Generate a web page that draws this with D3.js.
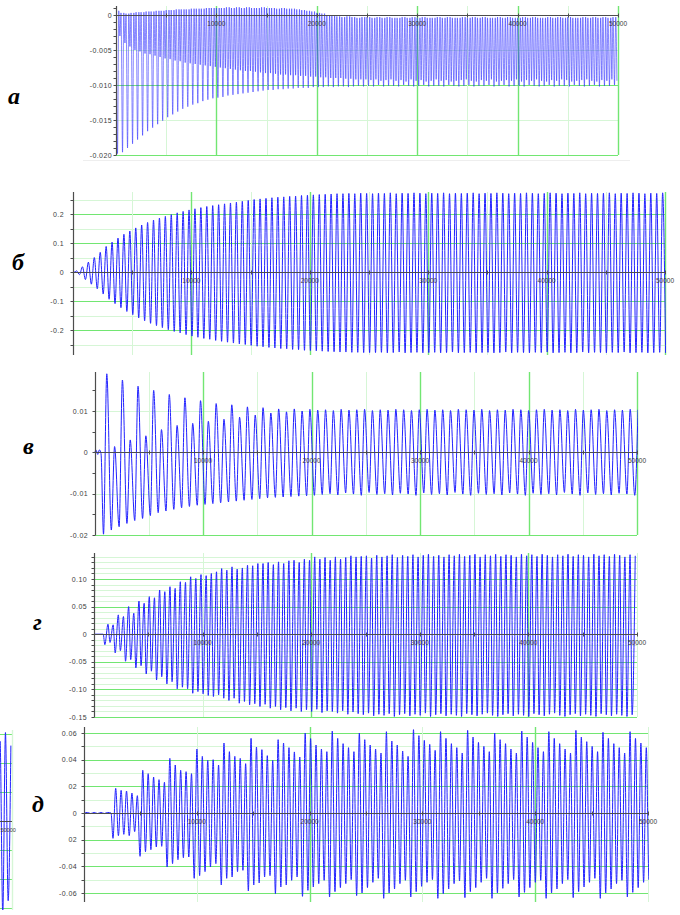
<!DOCTYPE html>
<html>
<head>
<meta charset="utf-8">
<script src="https://cdn.jsdelivr.net/npm/d3@7"></script>
<style>
  html, body { margin: 0; padding: 0; background: #fff; }
  svg { display: block; }
</style>
</head>
<body>
<svg id="fig" width="680" height="915"></svg>
<script>
// ---- shared time axis ----
const timeTicks = [10000, 20000, 30000, 40000, 50000];
const timeTickLabels = ["10000", "20000", "30000", "40000", "50000"];

// ---- panel а: per-cycle extremes (period 500) ----
const aHi = [
  .0006,.0003,.0002,.0003,.0004,.0004,.0005,.0005,.0006,.0006,
  .0007,.0007,.0008,.0008,.0008,.0009,.0009,.0009,.0010,.0010,
  .0010,.0010,.0011,.0010,.0011,.0010,.0011,.0010,.0010,.0011,
  .0010,.0010,.0009,.0010,.0009,.0009,.0008,.0007,.0006,.0005,
  .0003,.0002,.0000,-.0001,-.0002,-.0003,-.0002,-.0003,-.0004,-.0003,
  -.0003,-.0004,-.0003,-.0004,-.0003,-.0004,-.0004,-.0003,-.0004,-.0003,
  -.0004,-.0003,-.0004,-.0004,-.0003,-.0004,-.0003,-.0004,-.0004,-.0003,
  -.0004,-.0003,-.0004,-.0003,-.0004,-.0004,-.0003,-.0004,-.0003,-.0004,
  -.0004,-.0003,-.0004,-.0003,-.0004,-.0004,-.0003,-.0004,-.0003,-.0004,
  -.0003,-.0004,-.0004,-.0003,-.0004,-.0003,-.0004,-.0003,-.0004,-.0003
];
const aLo = [
  -.0198,-.0196,-.0190,-.0184,-.0178,-.0172,-.0166,-.0161,-.0156,-.0151,
  -.0146,-.0142,-.0138,-.0134,-.0131,-.0128,-.0126,-.0123,-.0121,-.0119,
  -.0118,-.0117,-.0115,-.0114,-.0113,-.0112,-.0111,-.0110,-.0109,-.0108,
  -.0107,-.0107,-.0106,-.0106,-.0105,-.0105,-.0104,-.0104,-.0104,-.0103,
  -.0103,-.0103,-.0102,-.0103,-.0102,-.0102,-.0103,-.0102,-.0101,-.0102,
  -.0101,-.0102,-.0100,-.0102,-.0101,-.0101,-.0102,-.0100,-.0101,-.0102,
  -.0101,-.0100,-.0102,-.0101,-.0101,-.0102,-.0100,-.0101,-.0102,-.0101,
  -.0100,-.0102,-.0101,-.0101,-.0100,-.0102,-.0101,-.0100,-.0102,-.0101,
  -.0101,-.0102,-.0100,-.0101,-.0102,-.0101,-.0100,-.0102,-.0101,-.0101,
  -.0102,-.0100,-.0101,-.0102,-.0101,-.0100,-.0102,-.0101,-.0101,-.0100
];
const aMid = [
  -.0030,-.0040,-.0045,-.0050,-.0052,-.0055,-.0056,-.0058,-.0060,-.0062,
  -.0063,-.0065,-.0066,-.0068,-.0069,-.0070,-.0071,-.0072,-.0073,-.0074,
  -.0075,-.0076,-.0077,-.0078,-.0079,-.0080,-.0080,-.0081,-.0082,-.0083,
  -.0083,-.0084,-.0085,-.0085,-.0086,-.0086,-.0087,-.0087,-.0088,-.0088,
  -.0089,-.0089,-.0090,-.0090,-.0090,-.0091,-.0091,-.0092,-.0092,-.0092,
  -.0093,-.0092,-.0094,-.0093,-.0092,-.0094,-.0093,-.0095,-.0092,-.0094,
  -.0093,-.0095,-.0094,-.0092,-.0094,-.0093,-.0095,-.0094,-.0093,-.0092,
  -.0094,-.0095,-.0093,-.0094,-.0092,-.0095,-.0094,-.0093,-.0094,-.0092,
  -.0095,-.0093,-.0094,-.0092,-.0094,-.0095,-.0093,-.0094,-.0092,-.0093,
  -.0095,-.0094,-.0093,-.0092,-.0094,-.0095,-.0093,-.0094,-.0092,-.0094
];
const aTickValues = [0, -0.005, -0.010, -0.015, -0.020];
const aTickLabels = ["0", "-0.005", "-0.010", "-0.015", "-0.020"];

// ---- panel б: per-cycle extremes (period 500) ----
const bHi = [
  .004,.018,.034,.050,.068,.088,.103,.117,.130,.141,
  .152,.162,.171,.179,.186,.192,.198,.204,.209,.214,
  .218,.222,.226,.229,.232,.235,.238,.241,.244,.247,
  .250,.252,.254,.256,.258,.259,.261,.262,.264,.265,
  .266,.267,.268,.269,.270,.270,.271,.270,.272,.271,
  .270,.272,.271,.273,.270,.272,.271,.273,.272,.270,
  .272,.271,.273,.270,.272,.271,.272,.273,.270,.272,
  .271,.273,.272,.270,.272,.271,.273,.272,.270,.271,
  .273,.272,.270,.272,.271,.273,.270,.272,.271,.272,
  .273,.270,.272,.271,.273,.272,.270,.272,.271,.273
];
const bLo = [
  -.009,-.026,-.042,-.058,-.076,-.094,-.109,-.123,-.136,-.147,
  -.158,-.168,-.177,-.185,-.192,-.199,-.205,-.210,-.216,-.221,
  -.225,-.229,-.232,-.236,-.239,-.242,-.245,-.248,-.250,-.253,
  -.256,-.258,-.260,-.262,-.264,-.265,-.267,-.268,-.270,-.271,
  -.272,-.273,-.274,-.275,-.276,-.276,-.277,-.277,-.278,-.278,
  -.278,-.277,-.279,-.278,-.276,-.279,-.278,-.277,-.279,-.278,
  -.277,-.279,-.278,-.276,-.279,-.278,-.277,-.279,-.278,-.277,
  -.279,-.278,-.276,-.279,-.277,-.278,-.279,-.277,-.278,-.276,
  -.279,-.278,-.277,-.279,-.278,-.276,-.279,-.277,-.278,-.279,
  -.277,-.278,-.276,-.279,-.278,-.277,-.279,-.278,-.277,-.279
];
const bTickValues = [0.2, 0.1, 0, -0.1, -0.2];
const bTickLabels = ["0.2", "0.1", "0", "-0.1", "-0.2"];

// ---- panel в: settling start, then per-cycle extremes (period 720) ----
const vLeadT = [0, 150, 300, 450, 600];
const vLead = [0, .0005, -.0005, .0006, -.0003];
const vHi = [
  .0190,.0014,.0175,.0030,.0160,.0040,.0150,.0055,.0140,.0065,
  .0132,.0070,.0125,.0075,.0118,.0080,.0115,.0085,.0110,.0090,
  .0108,.0095,.0105,.0098,.0105,.0100,.0104,.0102,.0103,.0101,
  .0104,.0102,.0103,.0104,.0101,.0103,.0102,.0104,.0103,.0101,
  .0103,.0104,.0102,.0103,.0101,.0104,.0103,.0102,.0104,.0101,
  .0103,.0102,.0104,.0103,.0101,.0103,.0104,.0102,.0103,.0101,
  .0104,.0102,.0103,.0104,.0101,.0103,.0102,.0104,.0103
];
const vLo = [
  -.0198,-.0188,-.0180,-.0172,-.0165,-.0160,-.0153,-.0146,-.0142,-.0138,
  -.0134,-.0131,-.0128,-.0126,-.0124,-.0122,-.0120,-.0118,-.0116,-.0114,
  -.0112,-.0110,-.0109,-.0108,-.0107,-.0106,-.0105,-.0104,-.0102,-.0100,
  -.0103,-.0098,-.0101,-.0104,-.0097,-.0102,-.0100,-.0103,-.0099,-.0101,
  -.0104,-.0098,-.0102,-.0100,-.0103,-.0097,-.0101,-.0104,-.0099,-.0102,
  -.0100,-.0103,-.0098,-.0101,-.0104,-.0099,-.0102,-.0100,-.0103,-.0097,
  -.0101,-.0104,-.0098,-.0102,-.0100,-.0103,-.0099,-.0101,-.0104
];
const vTickValues = [0.01, 0, -0.01, -0.02];
const vTickLabels = ["0.01", "0", "-0.01", "-0.02"];

// ---- panel г: per-cycle extremes (period 476) ----
const gHi = [
  .018,.017,.035,.032,.050,.038,.060,.056,.068,.066,
  .080,.077,.086,.083,.095,.094,.104,.101,.108,.106,
  .110,.113,.119,.116,.122,.118,.120,.125,.124,.128,
  .128,.130,.126,.131,.128,.133,.134,.130,.136,.134,
  .140,.136,.139,.134,.140,.136,.139,.142,.140,.141,
  .142,.138,.143,.140,.142,.144,.139,.143,.141,.144,
  .140,.143,.145,.141,.143,.140,.144,.142,.145,.141,
  .143,.145,.140,.144,.142,.145,.141,.144,.143,.140,
  .145,.142,.144,.141,.145,.143,.140,.144,.142,.145,
  .141,.144,.143,.140,.145,.142,.144,.141,.145,.143,
  .140,.144,.142
];
const gLo = [
  -.019,-.015,-.034,-.030,-.049,-.046,-.061,-.057,-.072,-.067,
  -.083,-.077,-.090,-.086,-.099,-.096,-.099,-.107,-.104,-.108,
  -.111,-.113,-.110,-.116,-.120,-.116,-.125,-.122,-.128,-.126,
  -.131,-.127,-.134,-.131,-.137,-.133,-.139,-.134,-.140,-.137,
  -.140,-.136,-.142,-.139,-.140,-.143,-.139,-.145,-.141,-.144,
  -.146,-.143,-.148,-.145,-.147,-.144,-.149,-.146,-.144,-.148,
  -.145,-.147,-.143,-.149,-.146,-.144,-.148,-.145,-.147,-.149,
  -.144,-.146,-.148,-.145,-.143,-.147,-.149,-.146,-.144,-.148,
  -.145,-.147,-.149,-.144,-.146,-.148,-.145,-.143,-.147,-.149,
  -.146,-.144,-.148,-.145,-.147,-.149,-.144,-.146,-.148,-.145,
  -.147,-.149,-.146
];
const gTickValues = [0.10, 0.05, 0, -0.05, -0.10, -0.15];
const gTickLabels = ["0.10", "0.05", "0", "-0.05", "-0.10", "-0.15"];

// ---- panel д: quiet start, then per-cycle extremes (period 480) ----
const dLeadT = [0, 300, 600, 900, 1200, 1500, 1800, 2100, 2400];
const dLead = [0, .0004, -.0004, .0004, -.0004, .0004, -.0004, .0004, 0];
const dHi = [
  .0185,.0170,.0165,.0150,.0130,  .0320,.0295,.0270,.0250,.0230,
  .0410,.0360,.0320,.0310,.0295,  .0480,.0425,.0395,.0400,.0360,
  .0525,.0460,.0425,.0410,.0370,  .0560,.0495,.0475,.0430,.0395,
  .0550,.0525,.0490,.0458,.0420,  .0600,.0558,.0510,.0480,.0460,
  .0615,.0560,.0520,.0490,.0460,  .0600,.0550,.0510,.0480,.0450,
  .0610,.0540,.0510,.0465,.0425,  .0625,.0580,.0545,.0515,.0470,
  .0610,.0560,.0520,.0490,.0450,  .0620,.0570,.0530,.0500,.0460,
  .0600,.0550,.0520,.0480,.0450,  .0615,.0570,.0530,.0490,.0460,
  .0610,.0560,.0520,.0480,.0450,  .0620,.0570,.0535,.0500,.0460,
  .0605,.0560,.0520,.0490,.0450,  .0610,.0560,.0525,.0490,.0460
];
const dLo = [
  -.0190,-.0170,-.0160,-.0170,-.0140,  -.0325,-.0290,-.0275,-.0255,-.0250,
  -.0405,-.0380,-.0350,-.0335,-.0330,  -.0490,-.0470,-.0440,-.0405,-.0380,
  -.0540,-.0490,-.0480,-.0440,-.0430,  -.0585,-.0540,-.0525,-.0480,-.0470,
  -.0605,-.0555,-.0540,-.0505,-.0480,  -.0625,-.0580,-.0555,-.0530,-.0505,
  -.0630,-.0590,-.0560,-.0530,-.0500,  -.0620,-.0600,-.0560,-.0520,-.0490,
  -.0640,-.0600,-.0570,-.0530,-.0505,  -.0630,-.0590,-.0550,-.0520,-.0500,
  -.0640,-.0605,-.0570,-.0530,-.0510,  -.0635,-.0590,-.0560,-.0520,-.0490,
  -.0640,-.0600,-.0565,-.0530,-.0500,  -.0630,-.0595,-.0560,-.0520,-.0505,
  -.0640,-.0600,-.0570,-.0530,-.0500,  -.0635,-.0590,-.0555,-.0520,-.0490,
  -.0640,-.0600,-.0570,-.0530,-.0505,  -.0630,-.0595,-.0560,-.0520,-.0500
];
const dTickValues = [0.06, 0.04, 0.02, 0, -0.02, -0.04, -0.06];
const dTickLabels = ["0.06", "0.04", "02", "0", "02", "-0.04", "-0.06"];

// ---- neighbouring plot, only its right edge is on the sheet ----
const eHi = [.055, .061, .052];
const eLo = [-.058, -.064, -.055];

// ---- styling ----
const GREEN = "#72e672";
const LIGHT = "#d6f6d6";
const AXIS = "#4d4d4d";
const BLUE = "#2222ff";
const LABEL = "#3c3c3c";
const LABEL_FONT = "'Liberation Sans', Arial, sans-serif";

const svg = d3.select("#fig");

// build [time, value] points from per-cycle extreme arrays
function cyclePoints(t0, period, seq, lead) {
  const pts = lead ? lead.slice() : [];
  const n = seq[0][1].length;
  for (let i = 0; i < n; i++) {
    for (const [frac, arr] of seq) pts.push([t0 + period * (i + frac), arr[i]]);
  }
  return pts;
}
function zip(ts, vs) { return ts.map((t, i) => [t, vs[i]]); }
function range(a, b, step) {
  const out = [];
  const n = Math.round((b - a) / step);
  for (let i = 0; i <= n; i++) out.push(+(a + i * step).toFixed(6));
  return out;
}
const crisp = v => Math.round(v) + 0.5;

let clipId = 0;
function drawPanel(p) {
  const g = svg.append("g");
  const x = d3.scaleLinear().domain([0, 50000]).range([p.x0, p.x1]);
  const y = d3.scaleLinear().domain(p.yDomain).range(p.yRange);

  // horizontal grid
  const hg = g.append("g");
  hg.selectAll("line.hmin").data(p.hMinor).join("line")
    .attr("x1", p.x0).attr("x2", p.x1)
    .attr("y1", d => crisp(y(d))).attr("y2", d => crisp(y(d)))
    .attr("stroke", LIGHT).attr("stroke-width", 1);
  hg.selectAll("line.hmaj").data(p.hMajor).join("line")
    .attr("x1", p.x0).attr("x2", p.x1)
    .attr("y1", d => crisp(y(d))).attr("y2", d => crisp(y(d)))
    .attr("stroke", GREEN).attr("stroke-width", 1);
  // vertical grid
  hg.selectAll("line.vmin").data(p.vMinor).join("line")
    .attr("x1", d => crisp(x(d))).attr("x2", d => crisp(x(d)))
    .attr("y1", p.top).attr("y2", p.bottom)
    .attr("stroke", LIGHT).attr("stroke-width", 1);
  hg.selectAll("line.vmaj").data(p.vMajor).join("line")
    .attr("x1", d => crisp(x(d))).attr("x2", d => crisp(x(d)))
    .attr("y1", p.top).attr("y2", p.bottom)
    .attr("stroke", GREEN).attr("stroke-width", 1.4);

  // signal
  const id = "clip" + (clipId++);
  svg.append("clipPath").attr("id", id).append("rect")
    .attr("x", p.x0).attr("y", p.top - 2)
    .attr("width", p.x1 - p.x0 + 1).attr("height", p.bottom - p.top + 4);
  const line = d3.line().x(d => x(d[0])).y(d => y(d[1])).curve(d3.curveMonotoneX);
  g.append("path").datum(p.points)
    .attr("clip-path", `url(#${id})`)
    .attr("fill", "none").attr("stroke", BLUE)
    .attr("stroke-width", p.lineWidth || 1)
    .attr("stroke-opacity", p.lineOpacity || 1)
    .attr("d", line);

  // zero line with time ticks
  const y0 = crisp(y(0));
  g.append("line").attr("x1", p.x0).attr("x2", p.x1).attr("y1", y0).attr("y2", y0)
    .attr("stroke", AXIS).attr("stroke-width", 1);
  g.selectAll("line.xt").data(range(5000, 50000, 5000)).join("line")
    .attr("x1", d => crisp(x(d))).attr("x2", d => crisp(x(d)))
    .attr("y1", y0 - 2).attr("y2", y0 + 2)
    .attr("stroke", AXIS).attr("stroke-width", 1);
  g.selectAll("text.xl").data(timeTicks).join("text")
    .attr("x", d => x(d)).attr("y", y0 + 10)
    .attr("text-anchor", "middle")
    .attr("font-family", LABEL_FONT).attr("font-size", 6.5)
    .attr("fill", LABEL)
    .text((d, i) => timeTickLabels[i]);

  // value axis
  const ax = crisp(p.x0);
  g.append("line").attr("x1", ax).attr("x2", ax).attr("y1", p.top).attr("y2", p.bottom)
    .attr("stroke", AXIS).attr("stroke-width", 1.2);
  g.selectAll("line.yt").data(p.minorTicks).join("line")
    .attr("x1", ax - 3).attr("x2", ax)
    .attr("y1", d => crisp(y(d))).attr("y2", d => crisp(y(d)))
    .attr("stroke", AXIS).attr("stroke-width", 1);
  g.selectAll("text.yl").data(p.tickValues).join("text")
    .attr("x", p.labelX).attr("y", d => y(d) + 2.5)
    .attr("text-anchor", "end")
    .attr("font-family", LABEL_FONT).attr("font-size", 7)
    .attr("letter-spacing", 0.4)
    .attr("fill", LABEL)
    .text((d, i) => p.tickLabels[i]);

  // panel letter
  svg.append("text")
    .attr("x", p.letterX).attr("y", p.letterY)
    .attr("font-family", "'Liberation Serif', 'Times New Roman', serif")
    .attr("font-weight", "bold").attr("font-style", "italic")
    .attr("font-size", 24).attr("fill", "#000")
    .text(p.letter);
}

const odd5000 = [5000, 15000, 25000, 35000, 45000];

drawPanel({
  letter: "а", letterX: 8, letterY: 104,
  x0: 116, x1: 618, top: 6, bottom: 155,
  yDomain: [-0.020, 0], yRange: [155, 15],
  hMajor: [-0.010, -0.020], hMinor: [-0.005, -0.015],
  vMajor: timeTicks, vMinor: odd5000,
  minorTicks: range(-0.020, 0.001, 0.001),
  tickValues: aTickValues, tickLabels: aTickLabels, labelX: 112,
  lineWidth: 0.9, lineOpacity: 0.6,
  points: cyclePoints(0, 500, [[0, aHi], [0.3, aLo], [0.55, aHi], [0.78, aMid]])
});

drawPanel({
  letter: "б", letterX: 12, letterY: 270,
  x0: 73, x1: 665, top: 192, bottom: 355,
  yDomain: [-0.2, 0.2], yRange: [330, 214],
  hMajor: [-0.2, -0.1, 0.1, 0.2], hMinor: [-0.25, -0.15, -0.05, 0.05, 0.15, 0.25],
  vMajor: timeTicks, vMinor: odd5000,
  minorTicks: range(-0.25, 0.25, 0.05),
  tickValues: bTickValues, tickLabels: bTickLabels, labelX: 64,
  points: cyclePoints(300, 500, [[0, bHi], [0.5, bLo]], [[0, 0], [150, 0]])
});

drawPanel({
  letter: "в", letterX: 23, letterY: 454,
  x0: 94.5, x1: 637, top: 372, bottom: 535,
  yDomain: [-0.02, 0.01], yRange: [535, 411],
  hMajor: [-0.02], hMinor: [-0.01, 0.01],
  vMajor: timeTicks, vMinor: odd5000,
  minorTicks: range(-0.02, 0.015, 0.005),
  tickValues: vTickValues, tickLabels: vTickLabels, labelX: 88,
  points: cyclePoints(830, 720, [[0, vLo], [0.42, vHi]], zip(vLeadT, vLead))
});

drawPanel({
  letter: "г", letterX: 33, letterY: 630,
  x0: 94, x1: 637, top: 553, bottom: 717,
  yDomain: [-0.15, 0.10], yRange: [717, 579],
  hMajor: [-0.15, -0.10, -0.05, 0.05, 0.10],
  hMinor: range(-0.14, 0.14, 0.01).filter(v => Math.abs(Math.round(v * 100) % 5) !== 0),
  vMajor: [20000, 40000], vMinor: [10000, 30000, 50000],
  minorTicks: range(-0.15, 0.14, 0.01),
  tickValues: gTickValues, tickLabels: gTickLabels, labelX: 87,
  points: cyclePoints(1000, 476, [[0, gLo], [0.6, gHi]], [[0, 0], [850, 0]])
});

drawPanel({
  letter: "д", letterX: 32, letterY: 812,
  x0: 84, x1: 648, top: 727, bottom: 902,
  yDomain: [-0.06, 0.06], yRange: [893, 733],
  hMajor: [-0.06, -0.04, -0.02, 0.02, 0.04, 0.06], hMinor: [-0.05, -0.03, -0.01, 0.01, 0.03, 0.05],
  vMajor: [20000, 40000], vMinor: [10000, 30000, 50000],
  minorTicks: range(-0.06, 0.06, 0.01),
  tickValues: dTickValues, tickLabels: dTickLabels, labelX: 77,
  points: cyclePoints(2570, 480, [[0, dLo], [0.5, dHi]], zip(dLeadT, dLead))
});

// right edge of the neighbouring plot at the left border
(function edgePlot() {
  const g = svg.append("g");
  const x = d3.scaleLinear().domain([0, 50000]).range([12 - 563.5, 12]);
  const y = d3.scaleLinear().domain([-0.06, 0.06]).range([908, 734]);
  [0.06, 0.04, 0.02, -0.02, -0.04, -0.06].forEach(v => {
    g.append("line").attr("x1", 0).attr("x2", 12)
      .attr("y1", crisp(y(v))).attr("y2", crisp(y(v)))
      .attr("stroke", GREEN).attr("stroke-width", 1);
  });
  g.append("line").attr("x1", crisp(x(50000))).attr("x2", crisp(x(50000)))
    .attr("y1", 730).attr("y2", 910).attr("stroke", LIGHT).attr("stroke-width", 1.4);
  svg.append("clipPath").attr("id", "clipEdge").append("rect")
    .attr("x", 0).attr("y", 728).attr("width", 12.5).attr("height", 182);
  const pts = cyclePoints(48700, 480, [[0, eLo], [0.5, eHi]]);
  const line = d3.line().x(d => x(d[0])).y(d => y(d[1])).curve(d3.curveMonotoneX);
  g.append("path").datum(pts).attr("clip-path", "url(#clipEdge)")
    .attr("fill", "none").attr("stroke", BLUE).attr("stroke-width", 1).attr("d", line);
  g.append("line").attr("x1", 0).attr("x2", 12).attr("y1", crisp(y(0))).attr("y2", crisp(y(0)))
    .attr("stroke", AXIS).attr("stroke-width", 1);
  g.append("text").attr("x", 0.5).attr("y", crisp(y(0)) + 10)
    .attr("text-anchor", "start").attr("font-family", LABEL_FONT).attr("font-size", 5.5)
    .attr("fill", LABEL).text(timeTickLabels[4]);
})();

// faint rule under the first plot
svg.append("line").attr("x1", 83).attr("x2", 630).attr("y1", 160.5).attr("y2", 160.5)
  .attr("stroke", "#eeeeee").attr("stroke-width", 1);
</script>
</body>
</html>
